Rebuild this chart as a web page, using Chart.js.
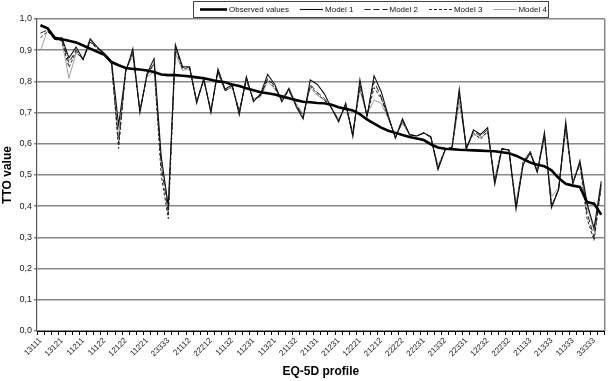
<!DOCTYPE html>
<html>
<head>
<meta charset="utf-8">
<script src="https://cdn.jsdelivr.net/npm/chart.js@4.4.0/dist/chart.umd.min.js"></script>
<style>
  html, body { margin: 0; padding: 0; background: #fff; }
  #wrap { width: 609px; height: 381px; }
</style>
</head>
<body>
<div id="wrap"><canvas id="chart" width="609" height="381"></canvas></div>
<script>
// every third EQ-5D state is labelled on the axis
const TICK_LABELS = [
  '13111', '13121', '11211', '11122', '12122', '11221', '23333', '21112', '22212',
  '11132', '11231', '11321', '21132', '21131', '21231', '12221', '21212', '22222',
  '22231', '21332', '22331', '12232', '22232', '21133', '21333', '11333', '33333'
];

const OBSERVED = [
  0.98, 0.97, 0.94, 0.935, 0.93, 0.925, 0.915, 0.905, 0.895, 0.885,
  0.862, 0.852, 0.843, 0.84, 0.838, 0.835, 0.83, 0.822, 0.82, 0.82,
  0.818, 0.816, 0.813, 0.81, 0.805, 0.80, 0.797, 0.79, 0.785, 0.778,
  0.772, 0.765, 0.762, 0.758, 0.752, 0.746, 0.74, 0.735, 0.733, 0.731,
  0.73, 0.725, 0.717, 0.712, 0.707, 0.695, 0.678, 0.665, 0.652, 0.642,
  0.635, 0.628, 0.622, 0.617, 0.612, 0.598, 0.588, 0.584, 0.583, 0.581,
  0.58, 0.579, 0.578, 0.577, 0.576, 0.573, 0.57, 0.562, 0.551, 0.54,
  0.533, 0.528, 0.515, 0.49, 0.472, 0.466, 0.462, 0.413, 0.408, 0.373
];

const MODEL_1 = [
  0.98, 0.97, 0.935, 0.94, 0.875, 0.91, 0.87, 0.935, 0.91, 0.89,
  0.865, 0.66, 0.83, 0.905, 0.70, 0.825, 0.873, 0.56, 0.40, 0.918,
  0.847, 0.847, 0.73, 0.81, 0.70, 0.84, 0.775, 0.79, 0.693, 0.815,
  0.735, 0.76, 0.822, 0.79, 0.735, 0.777, 0.72, 0.68, 0.805, 0.79,
  0.76, 0.714, 0.67, 0.73, 0.623, 0.805, 0.687, 0.818, 0.767, 0.69,
  0.618, 0.68, 0.628, 0.625, 0.635, 0.623, 0.517, 0.58, 0.59, 0.775,
  0.583, 0.645, 0.63, 0.652, 0.47, 0.583, 0.58, 0.39, 0.533, 0.57,
  0.508, 0.637, 0.395, 0.453, 0.671, 0.47, 0.546, 0.41, 0.33, 0.48
];

const MODEL_2 = [
  0.955, 0.965, 0.935, 0.935, 0.86, 0.90, 0.87, 0.93, 0.905, 0.89,
  0.86, 0.60, 0.835, 0.895, 0.705, 0.82, 0.86, 0.53, 0.38, 0.91,
  0.845, 0.845, 0.735, 0.805, 0.705, 0.835, 0.77, 0.785, 0.70, 0.81,
  0.74, 0.755, 0.81, 0.785, 0.74, 0.77, 0.725, 0.685, 0.79, 0.765,
  0.745, 0.715, 0.675, 0.725, 0.63, 0.79, 0.69, 0.80, 0.75, 0.685,
  0.62, 0.675, 0.63, 0.625, 0.635, 0.62, 0.52, 0.58, 0.59, 0.765,
  0.585, 0.64, 0.625, 0.645, 0.475, 0.585, 0.58, 0.395, 0.535, 0.575,
  0.51, 0.63, 0.40, 0.455, 0.66, 0.475, 0.54, 0.38, 0.30, 0.47
];

const MODEL_3 = [
  0.94, 0.96, 0.935, 0.93, 0.845, 0.895, 0.87, 0.925, 0.905, 0.885,
  0.86, 0.585, 0.835, 0.89, 0.705, 0.82, 0.855, 0.50, 0.36, 0.905,
  0.84, 0.845, 0.735, 0.805, 0.705, 0.83, 0.77, 0.785, 0.705, 0.805,
  0.74, 0.755, 0.805, 0.78, 0.74, 0.772, 0.725, 0.69, 0.785, 0.76,
  0.74, 0.715, 0.675, 0.725, 0.63, 0.785, 0.69, 0.78, 0.745, 0.685,
  0.62, 0.67, 0.63, 0.625, 0.635, 0.62, 0.525, 0.58, 0.59, 0.755,
  0.585, 0.635, 0.615, 0.64, 0.48, 0.585, 0.58, 0.40, 0.54, 0.575,
  0.51, 0.625, 0.40, 0.455, 0.655, 0.475, 0.535, 0.36, 0.29, 0.465
];

const MODEL_4 = [
  0.90, 0.965, 0.935, 0.93, 0.81, 0.89, 0.875, 0.94, 0.91, 0.885,
  0.855, 0.62, 0.84, 0.88, 0.71, 0.815, 0.83, 0.55, 0.40, 0.89,
  0.835, 0.84, 0.74, 0.80, 0.71, 0.825, 0.77, 0.78, 0.71, 0.80,
  0.745, 0.75, 0.80, 0.775, 0.745, 0.78, 0.73, 0.695, 0.78, 0.755,
  0.74, 0.715, 0.68, 0.72, 0.64, 0.77, 0.695, 0.74, 0.73, 0.68,
  0.625, 0.665, 0.63, 0.625, 0.635, 0.62, 0.53, 0.58, 0.59, 0.73,
  0.59, 0.63, 0.62, 0.635, 0.49, 0.585, 0.58, 0.41, 0.545, 0.575,
  0.515, 0.61, 0.43, 0.46, 0.64, 0.48, 0.53, 0.40, 0.32, 0.46
];

const FONT = "'Liberation Sans', Arial, sans-serif";

const categories = OBSERVED.map((_, i) => (i % 3 === 0 ? TICK_LABELS[i / 3] : ''));

// boxed legend above the plot, like the Excel original
const legendBox = {
  id: 'legendBox',
  afterDraw(chart) {
    const c = chart.ctx;
    c.save();
    c.fillStyle = '#fff';
    c.fillRect(193.5, 1.5, 355, 16);
    c.strokeStyle = '#444';
    c.lineWidth = 1;
    c.strokeRect(193.5, 1.5, 355, 16);
    c.font = '8px ' + FONT;
    c.textBaseline = 'middle';
    let x = 200;
    const y = 9.5;
    chart.data.datasets.forEach((ds, i) => {
      const w = i === 0 ? 27 : 23;
      c.save();
      c.strokeStyle = ds.borderColor;
      c.lineWidth = ds.borderWidth;
      c.setLineDash(ds.borderDash || []);
      c.beginPath();
      c.moveTo(x, y);
      c.lineTo(x + w, y);
      c.stroke();
      c.restore();
      c.fillStyle = '#111';
      c.fillText(ds.label, x + w + 2, y);
      x += w + 2 + c.measureText(ds.label).width + 11;
    });
    c.restore();
  }
};

// right-hand frame of the plot area
const plotFrame = {
  id: 'plotFrame',
  beforeDatasetsDraw(chart) {
    const { ctx: c, chartArea: a } = chart;
    c.save();
    c.strokeStyle = '#888';
    c.lineWidth = 1.5;
    c.beginPath();
    c.moveTo(a.right, a.top);
    c.lineTo(a.right, a.bottom);
    c.stroke();
    c.restore();
  }
};

new Chart(document.getElementById('chart'), {
  type: 'line',
  data: {
    labels: categories,
    datasets: [
      { label: 'Observed values', data: OBSERVED, borderColor: '#000', borderWidth: 2.6, borderDash: [] },
      { label: 'Model 1', data: MODEL_1, borderColor: '#111', borderWidth: 1.1, borderDash: [] },
      { label: 'Model 2', data: MODEL_2, borderColor: '#222', borderWidth: 1, borderDash: [6, 3] },
      { label: 'Model 3', data: MODEL_3, borderColor: '#222', borderWidth: 1, borderDash: [3, 2] },
      { label: 'Model 4', data: MODEL_4, borderColor: '#a0a0a0', borderWidth: 1, borderDash: [] }
    ]
  },
  options: {
    responsive: false,
    animation: false,
    layout: { padding: { top: 19, right: 2, left: 0, bottom: 0 } },
    elements: { point: { radius: 0 }, line: { tension: 0, fill: false } },
    plugins: { legend: { display: false }, tooltip: { enabled: false } },
    scales: {
      x: {
        offset: true,
        grid: { offset: true, drawOnChartArea: false, color: '#000', tickLength: 4 },
        border: { color: '#000', width: 1 },
        ticks: {
          autoSkip: false, minRotation: 45, maxRotation: 45, padding: 1,
          color: '#222', font: { size: 8, family: FONT }
        },
        title: {
          display: true, text: 'EQ-5D profile', color: '#000',
          font: { size: 12, weight: 'bold', family: FONT },
          padding: { top: 0, bottom: 2 }
        },
        afterFit: s => { s.height = 50; }
      },
      y: {
        min: 0,
        max: 1,
        grid: { color: '#888', lineWidth: 1.5, tickLength: 3 },
        border: { color: '#555', width: 1.2 },
        ticks: {
          stepSize: 0.1, padding: 2, color: '#222',
          font: { size: 9, family: FONT },
          callback: v => v.toFixed(1).replace('.', ',')
        },
        title: {
          display: true, text: 'TTO value', color: '#000',
          font: { size: 12, weight: 'bold', family: FONT, lineHeight: 1.2 },
          padding: { top: 0, bottom: 0 }
        },
        afterFit: s => { s.width = 37; }
      }
    }
  },
  plugins: [plotFrame, legendBox]
});
</script>
</body>
</html>
